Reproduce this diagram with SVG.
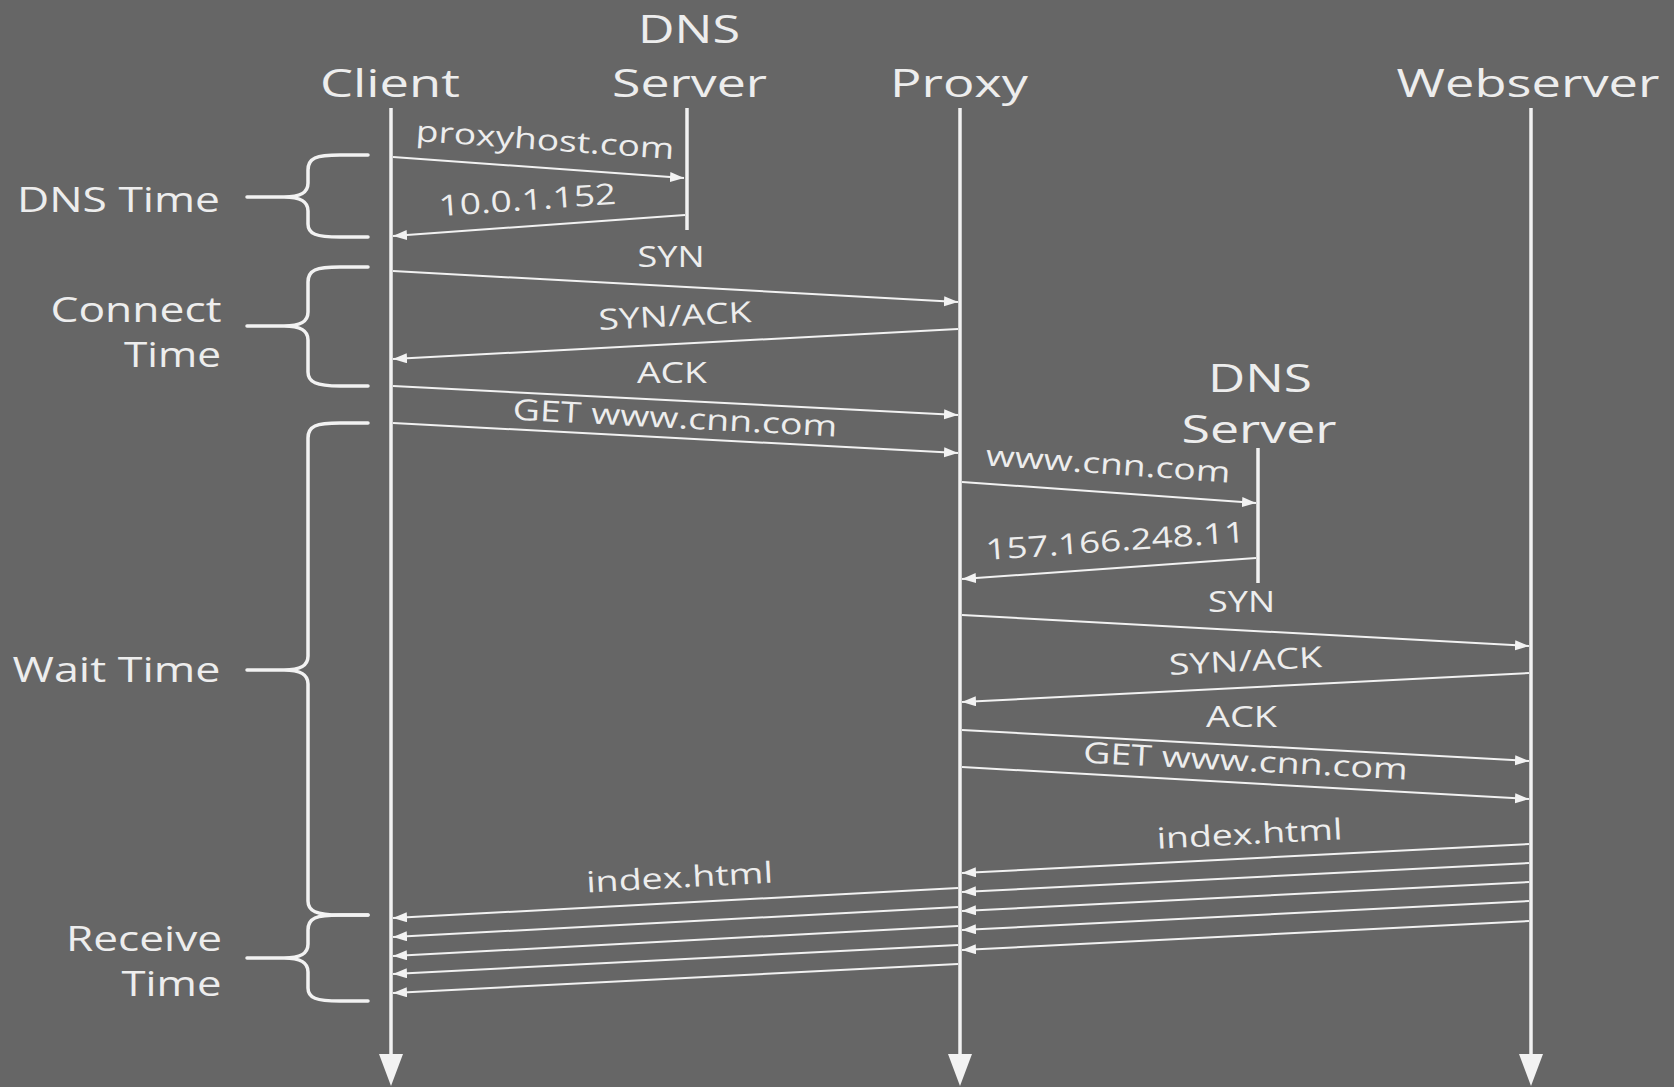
<svg xmlns="http://www.w3.org/2000/svg" width="1674" height="1087" viewBox="0 0 1674 1087">
<style>
.t{font-family:"Open Sans","DejaVu Sans",sans-serif;fill:#ededed}
.h{font-size:39px;text-anchor:middle}
.side{font-size:35px;text-anchor:end}
.m{font-size:29px;text-anchor:middle}
.life{stroke:#f2f2f2;stroke-width:3.5;fill:none}
.msg{stroke:#f2f2f2;stroke-width:2;fill:none;marker-end:url(#ah)}
.br{stroke:#f2f2f2;stroke-width:3.5;fill:none;stroke-linecap:round;stroke-linejoin:round}
.lh{fill:#f2f2f2}
</style>
<defs>
<marker id="ah" markerUnits="userSpaceOnUse" markerWidth="15" markerHeight="11" refX="14" refY="5" orient="auto" viewBox="0 0 15 11">
<path d="M0,0 L14,5 L0,10 Z" fill="#f2f2f2"/>
</marker>
</defs>
<rect width="1674" height="1087" fill="#666666"/>

<g id="client">
<text class="t h" x="390" y="97" textLength="140" lengthAdjust="spacingAndGlyphs">Client</text>
<line class="life" x1="391" y1="108" x2="391" y2="1060"/>
<path class="lh" d="M391,1086 L379,1054 L403,1054 Z"/>
</g>
<g id="dns1">
<text class="t h" x="689" y="43" textLength="102" lengthAdjust="spacingAndGlyphs">DNS</text>
<text class="t h" x="689.5" y="97" textLength="155" lengthAdjust="spacingAndGlyphs">Server</text>
<line class="life" x1="687" y1="108" x2="687" y2="230"/>
</g>
<g id="proxy">
<text class="t h" x="959" y="97" textLength="138" lengthAdjust="spacingAndGlyphs">Proxy</text>
<line class="life" x1="960" y1="108" x2="960" y2="1060"/>
<path class="lh" d="M960,1086 L948,1054 L972,1054 Z"/>
</g>
<g id="webserver">
<text class="t h" x="1528" y="97" textLength="263" lengthAdjust="spacingAndGlyphs">Webserver</text>
<line class="life" x1="1531" y1="108" x2="1531" y2="1060"/>
<path class="lh" d="M1531,1086 L1519,1054 L1543,1054 Z"/>
</g>
<g id="dns2">
<text class="t h" x="1260" y="392" textLength="104" lengthAdjust="spacingAndGlyphs">DNS</text>
<text class="t h" x="1259" y="443" textLength="155" lengthAdjust="spacingAndGlyphs">Server</text>
<line class="life" x1="1258" y1="448" x2="1258" y2="583"/>
</g>

<g id="dns-time">
<path class="br" d="M368,155 H340 C316,155 308,158 308,170 V183 C308,193 300,197 284,197 H247 M284,197 C300,197 308,201 308,211 V224 C308,234 316,237 340,237 H368"/>
<text class="t side" x="220" y="211.5" textLength="203" lengthAdjust="spacingAndGlyphs">DNS Time</text>
</g>
<g id="connect-time">
<path class="br" d="M368,267 H340 C316,267 308,270 308,282 V312 C308,322 300,326 284,326 H247 M284,326 C300,326 308,330 308,340 V372 C308,382 316,386 340,386 H368"/>
<text class="t side" x="221.5" y="321.5" textLength="171" lengthAdjust="spacingAndGlyphs">Connect</text>
<text class="t side" x="221" y="366.5" textLength="97" lengthAdjust="spacingAndGlyphs">Time</text>
</g>
<g id="wait-time">
<path class="br" d="M368,423 H340 C316,423 308,426 308,438 V656 C308,666 300,670 284,670 H247 M284,670 C300,670 308,674 308,684 V901 C308,911 316,915 340,915 H368"/>
<text class="t side" x="220.5" y="681.5" textLength="208" lengthAdjust="spacingAndGlyphs">Wait Time</text>
</g>
<g id="receive-time">
<path class="br" d="M368,915 H340 C316,915 308,918 308,930 V944 C308,954 300,958 284,958 H247 M284,958 C300,958 308,962 308,972 V988 C308,998 316,1001 340,1001 H368"/>
<text class="t side" x="222" y="951" textLength="156" lengthAdjust="spacingAndGlyphs">Receive</text>
<text class="t side" x="221.5" y="996" textLength="100" lengthAdjust="spacingAndGlyphs">Time</text>
</g>

<g id="connectors">
<line class="msg" x1="393" y1="157" x2="684" y2="178"/>
<line class="msg" x1="685" y1="215" x2="393" y2="236"/>
<line class="msg" x1="393" y1="271" x2="958" y2="302"/>
<line class="msg" x1="958" y1="329" x2="393" y2="359"/>
<line class="msg" x1="393" y1="386" x2="958" y2="415"/>
<line class="msg" x1="393" y1="423" x2="958" y2="453"/>
<line class="msg" x1="962" y1="482" x2="1256" y2="503"/>
<line class="msg" x1="1256" y1="558" x2="962" y2="579"/>
<line class="msg" x1="962" y1="615" x2="1529" y2="646"/>
<line class="msg" x1="1529" y1="673" x2="962" y2="702"/>
<line class="msg" x1="962" y1="730" x2="1529" y2="761"/>
<line class="msg" x1="962" y1="767" x2="1529" y2="799"/>
<line class="msg" x1="1529" y1="844" x2="962" y2="873"/>
<line class="msg" x1="1529" y1="863" x2="962" y2="892"/>
<line class="msg" x1="1529" y1="882" x2="962" y2="911"/>
<line class="msg" x1="1529" y1="901" x2="962" y2="930"/>
<line class="msg" x1="1529" y1="921" x2="962" y2="950"/>
<line class="msg" x1="958" y1="888" x2="393" y2="918"/>
<line class="msg" x1="958" y1="907" x2="393" y2="937"/>
<line class="msg" x1="958" y1="926" x2="393" y2="956"/>
<line class="msg" x1="958" y1="945" x2="393" y2="974"/>
<line class="msg" x1="958" y1="964" x2="393" y2="993"/>
</g>

<g id="labels">
<text class="t m" x="544.5" y="150" transform="rotate(4 544.5 150)" textLength="259" lengthAdjust="spacingAndGlyphs">proxyhost.com</text>
<text class="t m" x="528" y="210" transform="rotate(-4 528 210)" textLength="178" lengthAdjust="spacingAndGlyphs">10.0.1.152</text>
<text class="t m" x="671" y="267" textLength="67" lengthAdjust="spacingAndGlyphs">SYN</text>
<text class="t m" x="675.5" y="326" transform="rotate(-3 675.5 326)" textLength="153" lengthAdjust="spacingAndGlyphs">SYN/ACK</text>
<text class="t m" x="672" y="383" textLength="70" lengthAdjust="spacingAndGlyphs">ACK</text>
<text class="t m" x="674.5" y="428" transform="rotate(3 674.5 428)" textLength="325" lengthAdjust="spacingAndGlyphs">GET www.cnn.com</text>
<text class="t m" x="1107.5" y="474" transform="rotate(4 1107.5 474)" textLength="245" lengthAdjust="spacingAndGlyphs">www.cnn.com</text>
<text class="t m" x="1116" y="551" transform="rotate(-4 1116 551)" textLength="260" lengthAdjust="spacingAndGlyphs">157.166.248.11</text>
<text class="t m" x="1241.5" y="612" textLength="67" lengthAdjust="spacingAndGlyphs">SYN</text>
<text class="t m" x="1246" y="671" transform="rotate(-3 1246 671)" textLength="153" lengthAdjust="spacingAndGlyphs">SYN/ACK</text>
<text class="t m" x="1241.5" y="726.5" textLength="71" lengthAdjust="spacingAndGlyphs">ACK</text>
<text class="t m" x="1245" y="771" transform="rotate(3 1245 771)" textLength="325" lengthAdjust="spacingAndGlyphs">GET www.cnn.com</text>
<text class="t m" x="1250" y="844" transform="rotate(-3 1250 844)" textLength="186" lengthAdjust="spacingAndGlyphs">index.html</text>
<text class="t m" x="680" y="887.5" transform="rotate(-3 680 887.5)" textLength="187" lengthAdjust="spacingAndGlyphs">index.html</text>
</g>
</svg>
